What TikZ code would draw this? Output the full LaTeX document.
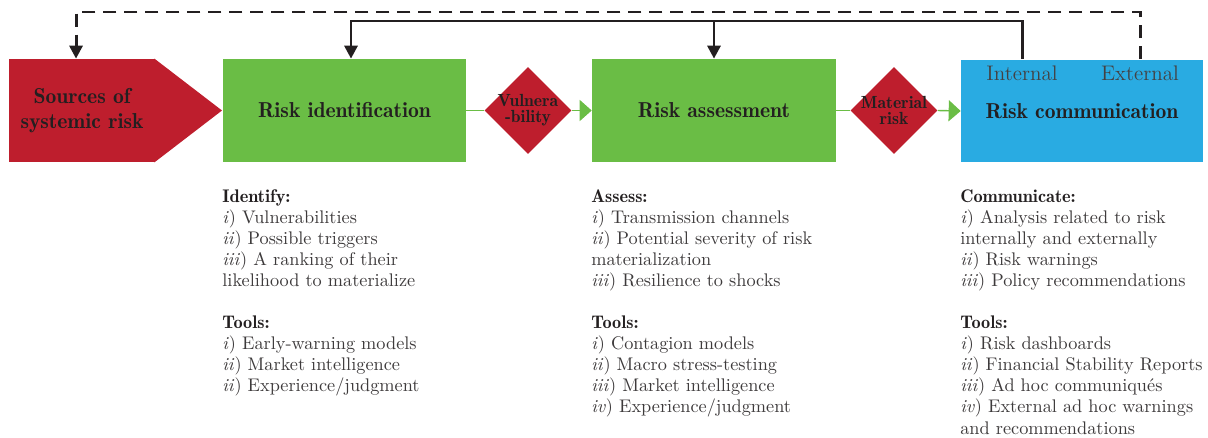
\documentclass[tikz,border=0pt]{standalone}
\usepackage{amsmath,amssymb}
\usepackage{tikz}
\usetikzlibrary{arrows.meta,shapes.geometric}

\definecolor{riskred}{HTML}{BE1E2D}
\definecolor{riskgreen}{HTML}{6ABD45}
\definecolor{riskblue}{HTML}{29ABE2}
\definecolor{ink}{HTML}{231F20}

\newcommand\infohead[1]{{\fontseries{b}\selectfont\color{ink}#1}}

\tikzset{
  stage/.style={rectangle, minimum width=4.86cm, minimum height=2.06cm, inner sep=0pt,
    text=ink, align=center, font=\fontsize{12.3}{14}\fontseries{b}\selectfont},
  gate/.style={diamond, aspect=1, fill=riskred, minimum width=1.74cm, minimum height=1.74cm,
    inner sep=-1.5pt, text=ink, align=center, font=\fontsize{10}{9}\fontseries{b}\selectfont},
  flow/.style={riskgreen, line width=0.8pt},
  feedback/.style={ink, line width=1.7pt, -{Triangle[length=0.26cm,width=0.26cm]}},
  tag/.style={inner sep=0pt, text=ink!85, font=\fontsize{12}{14}\selectfont},
  info/.style={anchor=north west, inner sep=0pt, align=left, text=ink!88,
    font=\fontsize{10.4}{12}\selectfont},
}

\begin{document}
\begin{tikzpicture}[x=0.02cm, y=-0.02cm]
\useasboundingbox (0,0) rectangle (1208,437);

\node[stage, fill=riskred, minimum width=2.92cm] (sources) at (82,110.5) {Sources of\\systemic risk};
\fill[riskred] ([xshift=-0.5pt]sources.north east) -- (222,110.5) -- ([xshift=-0.5pt]sources.south east) -- cycle;
\node[stage, fill=riskgreen] (ident) at (344.5,110.5) {Risk identification};
\node[gate] (vuln) at (528,110.5) {Vulnera\\-bility};
\node[stage, fill=riskgreen, minimum width=4.88cm] (assess) at (714,110.5) {Risk assessment};
\node[gate] (material) at (894,110.5) {Material\\risk};
\node[stage, fill=riskblue, minimum width=4.84cm] (comm) at (1082,111) {Risk communication};
\node[tag] (internal) at (1022,73) {Internal};
\node[tag] (external) at (1140,73) {External};

\draw[flow] (ident.east) -- (vuln.west);
\draw[flow, -{Triangle[length=0.24cm,width=0.42cm]}] (vuln.east) -- (assess.west);
\draw[flow] (assess.east) -- (material.west);
\draw[flow, -{Triangle[length=0.24cm,width=0.42cm]}] (material.east) -- (comm.west);

\coordinate (solidlevel) at (0,21);
\coordinate (dashlevel) at (0,12);
\draw[feedback] (internal |- comm.north) -- (internal |- solidlevel) -| ([xshift=3.7pt]ident.north);
\draw[feedback] (assess.north |- solidlevel) -- (assess.north);
\draw[feedback, dash pattern=on 0.26cm off 0.16cm] (external |- comm.north) -- (external |- dashlevel) -| ([xshift=-3.4pt]sources.north);

\node[info] (identinfo) at (222,189) {\infohead{Identify:}\\
  \emph{i}) Vulnerabilities\\
  \emph{ii}) Possible triggers\\
  \emph{iii}) A ranking of their\\
  likelihood to materialize\\[12pt]
  \infohead{Tools:}\\
  \emph{i}) Early-warning models\\
  \emph{ii}) Market intelligence\\
  \emph{ii}) Experience/judgment};
\node[info] (assessinfo) at (591,189) {\infohead{Assess:}\\
  \emph{i}) Transmission channels\\
  \emph{ii}) Potential severity of risk\\
  materialization\\
  \emph{iii}) Resilience to shocks\\[12pt]
  \infohead{Tools:}\\
  \emph{i}) Contagion models\\
  \emph{ii}) Macro stress-testing\\
  \emph{iii}) Market intelligence\\
  \emph{iv}) Experience/judgment};
\node[info] (comminfo) at (960,189) {\infohead{Communicate:}\\
  \emph{i}) Analysis related to risk\\
  internally and externally\\
  \emph{ii}) Risk warnings\\
  \emph{iii}) Policy recommendations\\[12pt]
  \infohead{Tools:}\\
  \emph{i}) Risk dashboards\\
  \emph{ii}) Financial Stability Reports\\
  \emph{iii}) Ad hoc communiqués\\
  \emph{iv}) External ad hoc warnings\\
  and recommendations};
\end{tikzpicture}
\end{document}
